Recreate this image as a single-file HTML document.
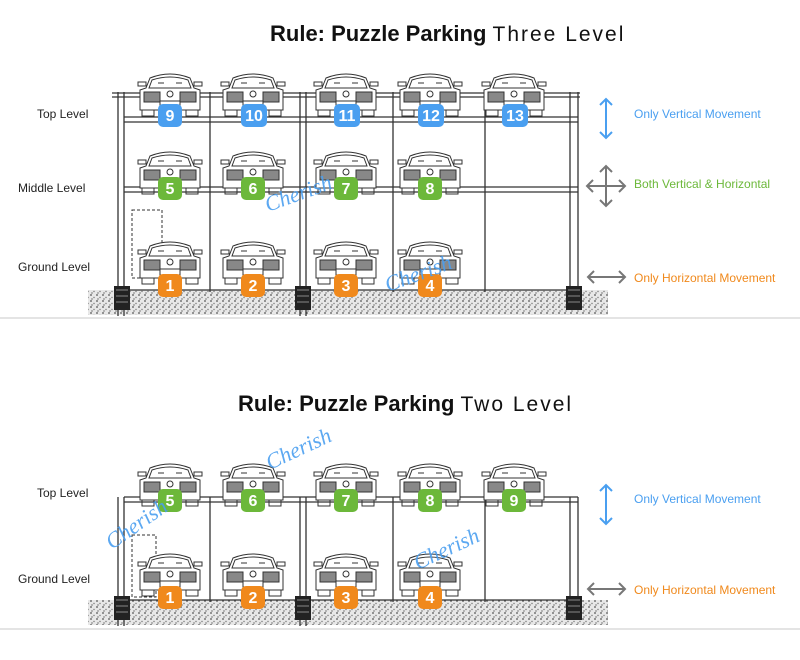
<!DOCTYPE html>
<html><head><meta charset="utf-8"><style>
html,body{margin:0;padding:0;background:#fff;width:800px;height:660px;overflow:hidden}
svg{display:block}
</style></head><body>
<svg width="800" height="660" viewBox="0 0 800 660" xmlns="http://www.w3.org/2000/svg" font-family="Liberation Sans, sans-serif">
<defs>
<pattern id="grav" width="6" height="6" patternUnits="userSpaceOnUse">
<rect width="6" height="6" fill="#e8e8e8"/>
<circle cx="1" cy="1" r="0.9" fill="#555"/><circle cx="4" cy="3.5" r="0.7" fill="#777"/><circle cx="2" cy="5" r="0.6" fill="#333"/>
</pattern>
<g id="car" fill="none" stroke="#333" stroke-width="1">
<path d="M14 6 Q34 -2 54 6 L58 16 L64 18 L64 38 L4 38 L4 18 L10 16 Z" fill="#fff"/>
<path d="M16 8 Q34 2 52 8 L55 16 L13 16 Z"/>
<path d="M2 10 L10 10 L10 14 L2 14 Z M58 10 L66 10 L66 14 L58 14 Z"/>
<rect x="8" y="20" width="16" height="10" fill="#888" stroke="#333"/>
<rect x="44" y="20" width="16" height="10" fill="#888" stroke="#333"/>
<circle cx="34" cy="22" r="3"/>
<rect x="24" y="29" width="20" height="6"/>
<path d="M6 38 L6 44 L18 44 L18 38 M50 38 L50 44 L62 44 L62 38"/>
<path d="M22 11 h6 M40 11 h6"/>
</g>
<g id="foot"><rect width="16" height="24" fill="#222"/><path d="M2 4h12M2 10h12M2 16h12" stroke="#888" stroke-width="1"/></g>
</defs>

<text x="270" y="41" font-size="22" font-weight="bold" fill="#111">Rule: Puzzle Parking <tspan font-weight="normal" font-size="21" letter-spacing="2">Three Level</tspan></text>

<rect x="88" y="290" width="520" height="25" fill="url(#grav)"/>
<g stroke="#333" stroke-width="1.3" fill="none">
<path d="M118 92V316M124 92V316M210 92V292M300 92V316M306 92V316M393 92V292M485 92V292M570 92V310M578 92V310"/>
<path d="M112 93H580M112 97H580"/>
<path d="M124 117H578M124 122H578"/>
<path d="M124 187H578M124 192H578"/>
<path d="M124 290H578"/>
</g>
<rect x="132" y="210" width="30" height="68" fill="none" stroke="#333" stroke-dasharray="3 2"/>
<use href="#foot" x="114" y="286"/><use href="#foot" x="295" y="286"/><use href="#foot" x="566" y="286"/>

<g>
<use href="#car" x="136" y="72"/><use href="#car" x="219" y="72"/><use href="#car" x="312" y="72"/><use href="#car" x="396" y="72"/><use href="#car" x="480" y="72"/>
<use href="#car" x="136" y="150"/><use href="#car" x="219" y="150"/><use href="#car" x="312" y="150"/><use href="#car" x="396" y="150"/>
<use href="#car" x="136" y="240"/><use href="#car" x="219" y="240"/><use href="#car" x="312" y="240"/><use href="#car" x="396" y="240"/>
</g>
<g font-size="16" font-weight="bold" fill="#fff" text-anchor="middle">
<g fill="#4a9ff0"><rect x="158" y="104" width="24" height="23" rx="5"/><rect x="241" y="104" width="26" height="23" rx="5"/><rect x="334" y="104" width="26" height="23" rx="5"/><rect x="418" y="104" width="26" height="23" rx="5"/><rect x="502" y="104" width="26" height="23" rx="5"/></g>
<g fill="#6cb83a"><rect x="158" y="177" width="24" height="23" rx="5"/><rect x="241" y="177" width="24" height="23" rx="5"/><rect x="334" y="177" width="24" height="23" rx="5"/><rect x="418" y="177" width="24" height="23" rx="5"/></g>
<g fill="#f0891c"><rect x="158" y="274" width="24" height="23" rx="5"/><rect x="241" y="274" width="24" height="23" rx="5"/><rect x="334" y="274" width="24" height="23" rx="5"/><rect x="418" y="274" width="24" height="23" rx="5"/></g>
<text x="170" y="121">9</text><text x="254" y="121">10</text><text x="347" y="121">11</text><text x="431" y="121">12</text><text x="515" y="121">13</text>
<text x="170" y="194">5</text><text x="253" y="194">6</text><text x="346" y="194">7</text><text x="430" y="194">8</text>
<text x="170" y="291">1</text><text x="253" y="291">2</text><text x="346" y="291">3</text><text x="430" y="291">4</text>
</g>
<g font-size="12" fill="#222"><text x="37" y="118">Top Level</text><text x="18" y="192">Middle Level</text><text x="18" y="271">Ground Level</text></g>

<g stroke-width="2" fill="none">
<path d="M606 99V138M600 105L606 99L612 105M600 132L606 138L612 132" stroke="#4a9ff0"/>
<path d="M606 166V206M587 186H625M600 172L606 166L612 172M600 200L606 206L612 200M593 180L587 186L593 192M619 180L625 186L619 192" stroke="#777"/>
<path d="M588 277H625M594 271L588 277L594 283M619 271L625 277L619 283" stroke="#777"/>
</g>
<text x="634" y="118" font-size="12" fill="#4a9ff0">Only Vertical Movement</text>
<text x="634" y="188" font-size="12" fill="#6cb83a">Both Vertical &amp; Horizontal</text>
<text x="634" y="282" font-size="12" fill="#f0891c">Only Horizontal Movement</text>
<rect x="0" y="317" width="800" height="2" fill="#e4e4e4"/>

<text x="238" y="411" font-size="22" font-weight="bold" fill="#111">Rule: Puzzle Parking <tspan font-weight="normal" font-size="21" letter-spacing="2">Two Level</tspan></text>

<rect x="88" y="600" width="520" height="25" fill="url(#grav)"/>
<g stroke="#333" stroke-width="1.3" fill="none">
<path d="M118 497V626M124 497V626M210 497V602M300 497V626M306 497V626M393 497V602M485 497V602M570 497V620M578 497V620"/>
<path d="M124 497H578M124 502H578"/>
<path d="M124 600H578"/>
</g>
<rect x="132" y="535" width="24" height="62" fill="none" stroke="#333" stroke-dasharray="3 2"/>
<use href="#foot" x="114" y="596"/><use href="#foot" x="295" y="596"/><use href="#foot" x="566" y="596"/>
<use href="#car" x="136" y="462"/><use href="#car" x="219" y="462"/><use href="#car" x="312" y="462"/><use href="#car" x="396" y="462"/><use href="#car" x="480" y="462"/>
<use href="#car" x="136" y="552"/><use href="#car" x="219" y="552"/><use href="#car" x="312" y="552"/><use href="#car" x="396" y="552"/>
<g font-size="16" font-weight="bold" fill="#fff" text-anchor="middle">
<g fill="#6cb83a"><rect x="158" y="489" width="24" height="23" rx="5"/><rect x="241" y="489" width="24" height="23" rx="5"/><rect x="334" y="489" width="24" height="23" rx="5"/><rect x="418" y="489" width="24" height="23" rx="5"/><rect x="502" y="489" width="24" height="23" rx="5"/></g>
<g fill="#f0891c"><rect x="158" y="586" width="24" height="23" rx="5"/><rect x="241" y="586" width="24" height="23" rx="5"/><rect x="334" y="586" width="24" height="23" rx="5"/><rect x="418" y="586" width="24" height="23" rx="5"/></g>
<text x="170" y="506">5</text><text x="253" y="506">6</text><text x="346" y="506">7</text><text x="430" y="506">8</text><text x="514" y="506">9</text>
<text x="170" y="603">1</text><text x="253" y="603">2</text><text x="346" y="603">3</text><text x="430" y="603">4</text>
</g>
<g font-size="12" fill="#222"><text x="37" y="497">Top Level</text><text x="18" y="583">Ground Level</text></g>
<g stroke-width="2" fill="none">
<path d="M606 485V524M600 491L606 485L612 491M600 518L606 524L612 518" stroke="#4a9ff0"/>
<path d="M588 589H625M594 583L588 589L594 595M619 583L625 589L619 595" stroke="#777"/>
</g>
<text x="634" y="503" font-size="12" fill="#4a9ff0">Only Vertical Movement</text>
<text x="634" y="594" font-size="12" fill="#f0891c">Only Horizontal Movement</text>
<rect x="0" y="628" width="800" height="2" fill="#e4e4e4"/>

<g font-family="Liberation Serif, serif" font-style="italic" font-size="22" fill="#4a9ff0" opacity="0.9">
<text transform="translate(268,212) rotate(-20)">Cherish</text>
<text transform="translate(388,292) rotate(-20)">Cherish</text>
<text transform="translate(270,470) rotate(-25)">Cherish</text>
<text transform="translate(112,550) rotate(-35)">Cherish</text>
<text transform="translate(418,570) rotate(-25)">Cherish</text>
</g>
</svg>
</body></html>
